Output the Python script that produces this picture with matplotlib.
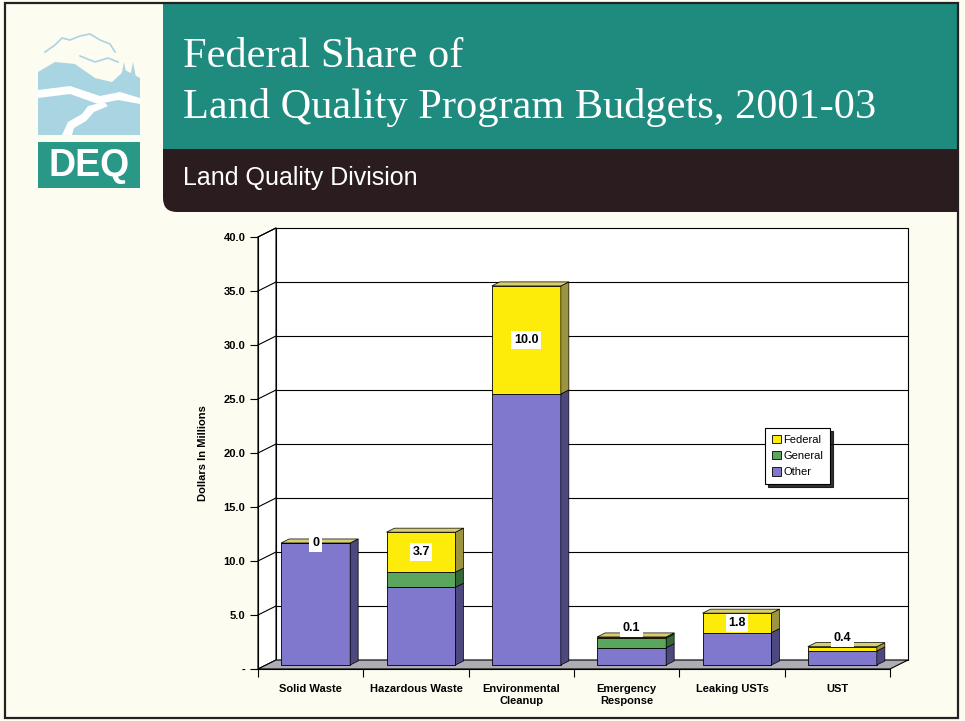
import numpy as np
import matplotlib.pyplot as plt
from matplotlib.patches import Polygon, Rectangle, FancyBboxPatch
from matplotlib.transforms import ScaledTranslation

categories = ["Solid Waste", "Hazardous Waste", "Environmental\nCleanup",
              "Emergency\nResponse", "Leaking USTs", "UST"]
other = [11.3, 7.2, 25.1, 1.6, 3.0, 1.3]
general = [0.0, 1.4, 0.0, 0.9, 0.0, 0.0]
federal = [0.0, 3.7, 10.0, 0.1, 1.8, 0.4]
federal_labels = ["0", "3.7", "10.0", "0.1", "1.8", "0.4"]
y_ticks = [0, 5, 10, 15, 20, 25, 30, 35, 40]
y_tick_labels = ["-", "5.0", "10.0", "15.0", "20.0", "25.0", "30.0", "35.0", "40.0"]

SANS = "Liberation Sans"
SERIF = "Liberation Serif"
# front, side, top colours for each series
colors = {
    "Other": ("#7f78cc", "#4d487e", "#9d97d8"),
    "General": ("#5aa65e", "#356638", "#7cbc7f"),
    "Federal": ("#fdec0a", "#9c9440", "#d8cf6c"),
}

W, H = 965, 721
fig = plt.figure(figsize=(W / 100, H / 100), dpi=100, facecolor="#fdfcf1")

# background layer in pixel coords for the slide header
bg = fig.add_axes([0, 0, 1, 1])
bg.set_xlim(0, W)
bg.set_ylim(H, 0)
bg.axis("off")

teal = "#1f8b7f"
dark = "#2b1d1f"
bg.add_patch(FancyBboxPatch((163, 148), 795, 64, boxstyle="round,pad=0,rounding_size=14",
                            fc=dark, ec="none"))
bg.add_patch(Rectangle((163, 148), 795, 25, fc=dark, ec="none"))
bg.add_patch(Rectangle((500, 148), 458, 64, fc=dark, ec="none"))
bg.add_patch(Rectangle((163, 4), 795, 145, fc=teal, ec="none"))
bg.add_patch(Rectangle((5, 3), 953, 715, fc="none", ec="#222222", lw=1.6))

bg.text(183, 67, "Federal Share of", color="white", fontsize=30.5, family=SERIF)
bg.text(183, 118, "Land Quality Program Budgets, 2001-03", color="white",
        fontsize=30.5, family=SERIF)
bg.text(183, 178, "Land Quality Division", color="white", fontsize=18,
        family=SANS, va="center")

# DEQ logo, rough landscape
lb = "#a9d4e2"
bg.add_patch(Polygon([(38, 72), (55, 62), (75, 64), (95, 78), (112, 82), (125, 70),
                      (140, 78), (140, 135), (38, 135)], fc=lb, ec="none"))
bg.add_patch(Polygon([(38, 90), (70, 86), (100, 96), (120, 92), (140, 98),
                      (140, 104), (118, 100), (98, 104), (70, 94), (38, 98)],
                     fc="white", ec="none"))
bg.add_patch(Polygon([(62, 135), (68, 122), (82, 114), (88, 106), (104, 102),
                      (108, 106), (94, 112), (86, 121), (74, 128), (72, 135)],
                     fc="white", ec="none"))
for tx in (124, 133):
    bg.add_patch(Polygon([(tx - 5, 88), (tx, 62), (tx + 5, 88)], fc=lb, ec="none"))
bg.plot([45, 55, 62, 70, 80, 90, 100, 110, 115],
        [52, 45, 38, 40, 36, 34, 40, 44, 52], color=lb, lw=1.2)
bg.plot([80, 95, 108, 118], [56, 62, 58, 62], color=lb, lw=1.2)
bg.add_patch(Rectangle((38, 142), 102, 46, fc="#2a9887", ec="none"))
bg.text(89, 166, "DEQ", color="white", fontsize=27, fontweight="bold",
        family=SANS, ha="center", va="center")

# chart, front plane in data coords
x0, x1, y0, y1 = 258, 890, 669, 237
ax = fig.add_axes([x0 / W, 1 - y0 / H, (x1 - x0) / W, (y0 - y1) / H])
ax.set_xlim(0, 6)
ax.set_ylim(0, 40)
ax.patch.set_visible(False)
pxx = (x1 - x0) / 6.0
pxy = (y0 - y1) / 40.0
wdx, wdy = 18 / pxx, 9 / pxy      # wall depth
bdx, bdy = 8 / pxx, 4 / pxy       # bar depth
shift = ax.transData + ScaledTranslation(0.05, 0.04, fig.dpi_scale_trans)

lw = 0.8
ax.add_patch(Rectangle((wdx, wdy), 6, 40, fc="white", ec="black", lw=lw, zorder=0.5,
                       clip_on=False))
ax.add_patch(Polygon([(0, 0), (0, 40), (wdx, 40 + wdy), (wdx, wdy)], fc="white",
                     ec="black", lw=lw, zorder=0.5, clip_on=False))
for v in y_ticks[1:-1]:
    ax.plot([wdx, 6 + wdx], [v + wdy, v + wdy], color="black", lw=lw, zorder=0.6,
            clip_on=False)
for v in y_ticks[1:]:
    ax.plot([0, wdx], [v, v + wdy], color="black", lw=lw, zorder=0.6, clip_on=False)
ax.add_patch(Polygon([(0, 0), (6, 0), (6 + wdx, wdy), (wdx, wdy)], fc="#adadb3",
                     ec="black", lw=lw, zorder=0.7, clip_on=False))

xc = np.arange(len(categories)) + 0.5
bw = 0.655
series = [("Other", other), ("General", general), ("Federal", federal)]
bottom = np.zeros(len(categories))
handles = {}
for name, vals in series:
    vals = np.array(vals)
    front, side, top = colors[name]
    handles[name] = ax.bar(xc, vals, width=bw, bottom=bottom, color=front,
                           edgecolor="black", lw=0.6, transform=shift, zorder=3,
                           label=name)
    for i in range(len(xc)):
        if vals[i] <= 0:
            continue
        xr = xc[i] + bw / 2
        b, t = bottom[i], bottom[i] + vals[i]
        ax.add_patch(Polygon([(xr, b), (xr + bdx, b + bdy), (xr + bdx, t + bdy), (xr, t)],
                             fc=side, ec="black", lw=0.5, transform=shift, zorder=3,
                             clip_on=False))
    bottom = bottom + vals

for i in range(len(xc)):
    xl, xr, t = xc[i] - bw / 2, xc[i] + bw / 2, bottom[i]
    ax.add_patch(Polygon([(xl, t), (xr, t), (xr + bdx, t + bdy), (xl + bdx, t + bdy)],
                         fc=colors["Federal"][2], ec="black", lw=0.5, transform=shift,
                         zorder=3, clip_on=False))
    fed = federal[i]
    if fed >= 1:
        ly = t - fed / 2
    elif fed > 0:
        ly = t + 0.8
    else:
        ly = t
    ax.text(xc[i], ly, federal_labels[i], transform=shift, ha="center", va="center",
            fontsize=9, fontweight="bold", family=SANS, zorder=5,
            bbox=dict(fc="white", ec="none", pad=2))

for s in ("top", "right"):
    ax.spines[s].set_visible(False)
for s in ("left", "bottom"):
    ax.spines[s].set_linewidth(lw)
    ax.spines[s].set_zorder(4)
ax.set_yticks(y_ticks, y_tick_labels)
ax.set_xticks(xc, categories)
ax.set_xticks(np.arange(7), minor=True)
ax.tick_params(axis="y", direction="out", length=6, width=lw, pad=3)
ax.tick_params(axis="x", which="major", length=0, pad=11)
ax.tick_params(axis="x", which="minor", direction="out", length=6, width=lw)
for lab in ax.get_xticklabels() + ax.get_yticklabels():
    lab.set_fontfamily(SANS)
    lab.set_fontweight("bold")
    lab.set_fontsize(8)

bg.text(203, 453, "Dollars In Millions", rotation=90, ha="center", va="center",
        fontsize=8, fontweight="bold", family=SANS)

leg = fig.legend([handles["Federal"], handles["General"], handles["Other"]],
                 ["Federal", "General", "Other"], loc="upper left",
                 bbox_to_anchor=(765 / W, 1 - 428 / H), bbox_transform=fig.transFigure,
                 prop={"family": SANS, "size": 8}, handlelength=0.8, handleheight=0.8,
                 handletextpad=0.25, labelspacing=0.55, borderpad=0.6, borderaxespad=0,
                 fancybox=False, edgecolor="black", framealpha=1,
                 shadow={"color": "black", "alpha": 0.8})
leg.get_frame().set_linewidth(0.8)

fig.savefig("out.png", dpi=100, facecolor=fig.get_facecolor())
